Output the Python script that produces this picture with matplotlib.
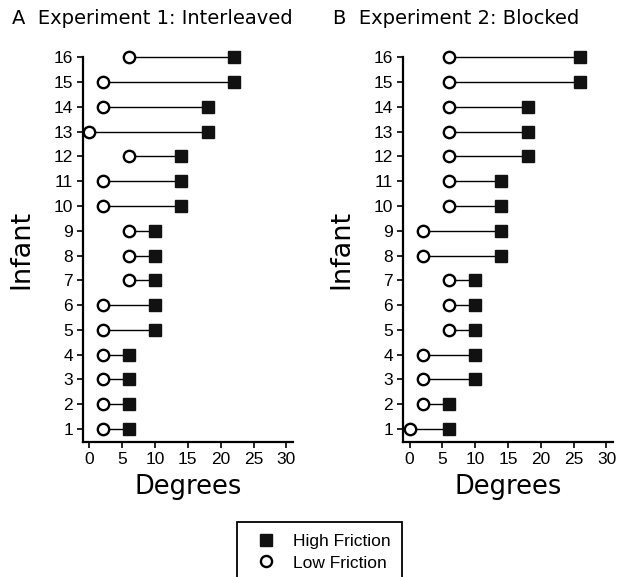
import matplotlib
matplotlib.use('Agg')
import matplotlib.pyplot as plt
from matplotlib.lines import Line2D
from matplotlib.patches import Rectangle

plt.rcParams['font.family'] = ['Liberation Sans', 'DejaVu Sans']

infants = list(range(1, 17))

# Experiment 1: Interleaved
exp1_low = [2, 2, 2, 2, 2, 2, 6, 6, 6, 2, 2, 6, 0, 2, 2, 6]
exp1_high = [6, 6, 6, 6, 10, 10, 10, 10, 10, 14, 14, 14, 18, 18, 22, 22]

# Experiment 2: Blocked
exp2_low = [0, 2, 2, 2, 6, 6, 6, 2, 2, 6, 6, 6, 6, 6, 6, 6]
exp2_high = [6, 6, 10, 10, 10, 10, 10, 14, 14, 14, 14, 18, 18, 18, 26, 26]

x_ticks = [0, 5, 10, 15, 20, 25, 30]

wide = ['DejaVu Sans']


def draw_panel(ax, low, high, title):
    for y, lo, hi in zip(infants, low, high):
        ax.plot([lo, hi], [y, y], color='black', lw=1.0, zorder=1, clip_on=False)
    ax.plot(high, infants, 's', color='#111111', markersize=8.8, zorder=3, clip_on=False)
    ax.plot(low, infants, 'o', markerfacecolor='white', markeredgecolor='black',
            markeredgewidth=1.7, markersize=8.2, zorder=3, clip_on=False)

    ax.set_xlim(-1, 31)
    ax.set_ylim(0.48, 16)
    ax.set_xticks(x_ticks)
    ax.set_yticks(infants)
    ax.spines['top'].set_visible(False)
    ax.spines['right'].set_visible(False)
    ax.spines['left'].set_linewidth(1.6)
    ax.spines['bottom'].set_linewidth(1.6)
    ax.tick_params(direction='out', length=4, width=1.2, labelsize=12.5, pad=3)
    ax.set_xlabel('Degrees', fontsize=18.5, labelpad=5, family=wide)
    ax.set_ylabel('Infant', fontsize=19.5, labelpad=14, family=wide)
    ax.set_title(title, fontsize=14, loc='left', x=-0.335, y=1.065, family=wide)


fig = plt.figure(figsize=(6.18, 5.77), dpi=100)
ax1 = fig.add_axes([0.134, 0.234, 0.340, 0.667])
ax2 = fig.add_axes([0.652, 0.234, 0.340, 0.667])

draw_panel(ax1, exp1_low, exp1_high, 'A  Experiment 1: Interleaved')
draw_panel(ax2, exp2_low, exp2_high, 'B  Experiment 2: Blocked')

handles = [
    Line2D([], [], ls='none', marker='s', color='#111111', markersize=8.5),
    Line2D([], [], ls='none', marker='o', markerfacecolor='white',
           markeredgecolor='black', markeredgewidth=1.7, markersize=8),
]
fig.legend(handles, ['High Friction', 'Low Friction'],
           loc='upper left', bbox_to_anchor=(237 / 618, 1 - 526 / 577),
           frameon=False, fontsize=12.5,
           handlelength=2.4, handletextpad=0.35, borderpad=0.45,
           labelspacing=0.37, borderaxespad=0)

# legend frame runs off the bottom edge, as in the original
frame = Rectangle((237 / 618, -0.05), 165 / 618, 0.05 + 1 - 522 / 577,
                  transform=fig.transFigure, fill=False, edgecolor='black', lw=1.3)
fig.patches.append(frame)

fig.savefig('out.png', dpi=100)
